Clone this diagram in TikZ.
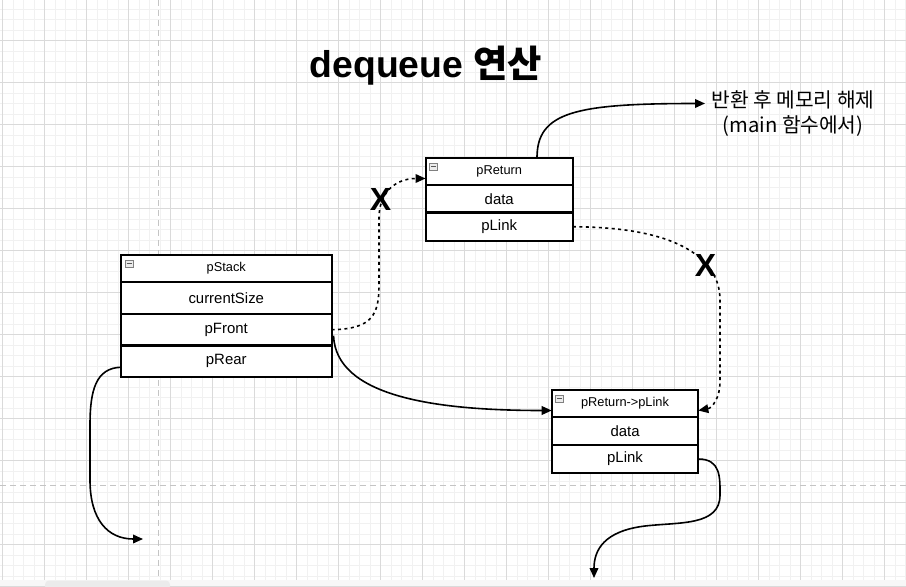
\documentclass[tikz,border=0pt]{standalone}
\usepackage{fontspec}
\setmainfont{Liberation Sans}
\newfontfamily\cjk{Noto Sans CJK KR}
\usetikzlibrary{arrows.meta}
\definecolor{minorgrid}{HTML}{F1F1F1}
\definecolor{majorgrid}{HTML}{DADADA}
\definecolor{pagebreak}{HTML}{C4C4C4}
\begin{document}
\begin{tikzpicture}[x=0.75pt,y=-0.75pt,
  cell/.style={draw=black, line width=1.5pt, fill=white, inner sep=0pt, outer sep=0pt,
    anchor=north west, font=\fontsize{11.2pt}{12pt}\selectfont},
  hcell/.style={cell, font=\fontsize{9.6pt}{11pt}\selectfont},
  link/.style={line width=1.2pt, -{Triangle[length=7.5pt,width=6.5pt]}},
  dotlink/.style={link, dash pattern=on 2.25pt off 2.6pt},
  cross/.style={font=\bfseries\fontsize{24pt}{24pt}\selectfont, inner sep=0pt},
  icon/.style={draw=gray, fill=gray!15, line width=0.5pt},
]
\useasboundingbox (0,0) rectangle (906,586);
\fill[white] (0,0) rectangle (906,586);
% grid
\foreach \i in {0,...,87} \draw[minorgrid, line width=0.6pt] ({-7.8+10.5*\i},0) -- ({-7.8+10.5*\i},586);
\foreach \i in {0,...,57} \draw[minorgrid, line width=0.6pt] (0,{-1.3+10.5*\i}) -- (906,{-1.3+10.5*\i});
\foreach \i in {0,...,21} \draw[majorgrid, line width=0.7pt] ({2.7+42*\i},0) -- ({2.7+42*\i},586);
\foreach \i in {0,...,14} \draw[majorgrid, line width=0.7pt] (0,{-1.3+42*\i}) -- (906,{-1.3+42*\i});
\draw[pagebreak, line width=0.9pt, dash pattern=on 4.5pt off 3pt] (158.3,0) -- (158.3,586);
\draw[pagebreak, line width=0.9pt, dash pattern=on 4.5pt off 3pt] (0,485.5) -- (906,485.5);
% bottom bar
\fill[gray!6] (0,580) rectangle (906,586);
\fill[gray!16, rounded corners=3pt] (45,580.5) rectangle (170,590);

% title
\node[font=\bfseries\fontsize{28pt}{30pt}\selectfont, anchor=base] (title) at (426,77) {dequeue {\cjk 연산}};

% pStack
\node[hcell, minimum width=157.9pt, minimum height=20.25pt] (shead) at (121,255) {pStack};
\node[cell, minimum width=157.9pt, minimum height=24pt] (ssize) at (121,282) {currentSize};
\node[cell, minimum width=157.9pt, minimum height=23.6pt] (sfront) at (121,314) {pFront};
\node[cell, minimum width=157.9pt, minimum height=23.6pt] (srear) at (121,345.5) {pRear};

% pReturn
\node[hcell, minimum width=110.6pt, minimum height=20.25pt] (rhead) at (425.5,158) {pReturn};
\node[cell, minimum width=110.6pt, minimum height=20.6pt] (rdata) at (425.5,185) {data};
\node[cell, minimum width=110.6pt, minimum height=21.4pt] (rlink) at (425.5,212.5) {pLink};

% pReturn->pLink
\node[hcell, minimum width=110pt, minimum height=20.25pt] (nhead) at (551.7,390) {pReturn-\textgreater pLink};
\node[cell, minimum width=110pt, minimum height=21pt] (ndata) at (551.7,417) {data};
\node[cell, minimum width=110pt, minimum height=21pt] (nlink) at (551.7,445) {pLink};

% header icons
\foreach \h in {shead,rhead,nhead}{
  \draw[icon] ([shift={(4,5)}]\h.north west) rectangle ++(8,7);
  \draw[gray!70!black, line width=0.6pt] ([shift={(5.5,8.5)}]\h.north west) -- ++(5,0);
}

% note
\node[font=\cjk\fontsize{15.2pt}{18.75pt}\selectfont, align=center] (note) at (793,114) {반환 후 메모리 해제\\(main 함수에서)};
\coordinate (noteIn) at (705,103.5);
\draw[link] ([xshift=28.3pt]rhead.north) .. controls (537,112) and (575,103.5) .. (noteIn);

% crosses
\node[cross] (x1) at (380.5,199) {X};
\node[cross] (x2) at (705.5,265) {X};

% dotted: pFront -> pReturn (broken)
\draw[dotlink] (sfront.east) .. controls (372,329) and (379,315) .. (379,285) -- (379,218)
  .. controls (379,193) and (395,178.5) .. ([yshift=-5.25pt]rhead.west);
% dotted: pReturn.pLink -> next (broken)
\draw[dotlink] (rlink.east) .. controls (680,227) and (720,260) .. (720,300) -- (720,382)
  .. controls (720,398) and (712,408) .. ([yshift=-5.25pt]nhead.east);
% solid: pFront -> next
\draw[link] ([xshift=1.5pt,yshift=-4.5pt]sfront.east) .. controls (336,395) and (430,410.5) .. ([yshift=-5.25pt]nhead.west);
% pRear
\coordinate (rearEnd) at (143,539);
\draw[link] ([yshift=-4.5pt]srear.west) .. controls (96,368) and (90,390) .. (90,425) -- (90,480)
  .. controls (90,520) and (108,539) .. (rearEnd);
% next pLink
\coordinate (linkEnd) at (594,578);
\draw[link] (nlink.east) .. controls (721,459) and (720,478) .. (720,495)
  .. controls (720,526) and (680,522) .. (645,526)
  .. controls (604,531) and (594,550) .. (linkEnd);
\end{tikzpicture}
\end{document}
